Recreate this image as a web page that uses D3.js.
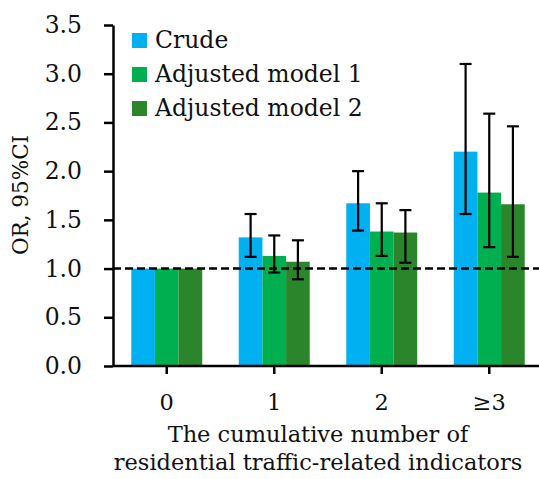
<!DOCTYPE html>
<html>
<head>
<meta charset="utf-8">
<script src="https://cdn.jsdelivr.net/npm/d3@7"></script>
<style>
  body { margin: 0; background: #fff; }
  svg { display: block; font-family: "DejaVu Serif", serif; }
</style>
</head>
<body>
<svg id="chart" width="539" height="479"></svg>
<script>
  // categories and series
  const categories = ["0", "1", "2", "≥3"];
  const seriesNames = ["Crude", "Adjusted model 1", "Adjusted model 2"];
  const colors = ["#00b0f0", "#00b050", "#2b862b"];

  // odds ratios per series (one value per category)
  const crude = [1.0, 1.32, 1.67, 2.2];
  const adj1 = [1.0, 1.13, 1.38, 1.78];
  const adj2 = [1.0, 1.07, 1.37, 1.66];

  // 95% CI bounds (null = no error bar)
  const crudeLow = [null, 1.12, 1.39, 1.56];
  const crudeHigh = [null, 1.56, 2.0, 3.1];
  const adj1Low = [null, 0.96, 1.13, 1.22];
  const adj1High = [null, 1.34, 1.67, 2.59];
  const adj2Low = [null, 0.89, 1.06, 1.12];
  const adj2High = [null, 1.29, 1.6, 2.46];

  const yTicks = [0, 0.5, 1, 1.5, 2, 2.5, 3, 3.5];

  const values = [crude, adj1, adj2];
  const lows = [crudeLow, adj1Low, adj2Low];
  const highs = [crudeHigh, adj1High, adj2High];

  const rows = [];
  seriesNames.forEach((s, si) => {
    categories.forEach((c, ci) => {
      rows.push({ series: s, si: si, cat: c, v: values[si][ci], lo: lows[si][ci], hi: highs[si][ci] });
    });
  });

  const svg = d3.select("#chart");
  const mLeft = 113, mRight = 543, mTop = 25, mBottom = 366;

  const x = d3.scaleBand().domain(categories).range([mLeft, mRight]).paddingInner(0.34).paddingOuter(0.17);
  const xs = d3.scaleBand().domain(seriesNames).range([0, x.bandwidth()]);
  const y = d3.scaleLinear().domain([0, 3.5]).range([mBottom, mTop]);

  // bars
  svg.append("g")
    .selectAll("rect")
    .data(rows)
    .join("rect")
    .attr("x", d => x(d.cat) + xs(d.series))
    .attr("width", xs.bandwidth())
    .attr("y", d => y(d.v))
    .attr("height", d => y(0) - y(d.v))
    .attr("fill", d => colors[d.si]);

  // reference line at OR = 1
  svg.append("line")
    .attr("x1", mLeft)
    .attr("x2", 539)
    .attr("y1", y(1))
    .attr("y2", y(1))
    .attr("stroke", "#000")
    .attr("stroke-width", 2.5)
    .attr("stroke-dasharray", "8,4");

  // error bars
  const err = svg.append("g").attr("stroke", "#000").attr("stroke-width", 2.2);
  const withCI = rows.filter(d => d.lo != null);
  const cx = d => x(d.cat) + xs(d.series) + xs.bandwidth() / 2;
  err.selectAll(".v").data(withCI).join("line")
    .attr("x1", cx).attr("x2", cx)
    .attr("y1", d => y(d.lo)).attr("y2", d => y(d.hi));
  err.selectAll(".t").data(withCI).join("line")
    .attr("x1", d => cx(d) - 6).attr("x2", d => cx(d) + 6)
    .attr("y1", d => y(d.hi)).attr("y2", d => y(d.hi));
  err.selectAll(".b").data(withCI).join("line")
    .attr("x1", d => cx(d) - 6).attr("x2", d => cx(d) + 6)
    .attr("y1", d => y(d.lo)).attr("y2", d => y(d.lo));

  // axes
  const yAxis = svg.append("g")
    .attr("transform", `translate(${mLeft},0)`)
    .call(d3.axisLeft(y).tickValues(yTicks).tickFormat(d3.format(".1f")).tickSize(9).tickSizeOuter(0).tickPadding(22));
  yAxis.selectAll("text").attr("font-size", 23.5).attr("font-family", "DejaVu Serif").attr("fill", "#111");
  yAxis.selectAll("line, path").attr("stroke", "#000").attr("stroke-width", 2.5);

  const xAxis = svg.append("g")
    .attr("transform", `translate(0,${mBottom})`)
    .call(d3.axisBottom(x).tickSize(8).tickSizeOuter(0).tickPadding(20));
  xAxis.select(".domain").attr("d", `M${mLeft},0H539`);
  xAxis.selectAll("text").attr("font-size", 22.5).attr("font-family", "DejaVu Serif").attr("fill", "#111");
  xAxis.selectAll("line, path").attr("stroke", "#000").attr("stroke-width", 2.5);

  // axis titles
  svg.append("text")
    .attr("transform", "translate(28,195) rotate(-90)")
    .attr("text-anchor", "middle")
    .attr("font-size", 21.5)
    .attr("fill", "#111")
    .text("OR, 95%CI");

  const xTitle = svg.append("text")
    .attr("text-anchor", "middle")
    .attr("font-size", 22.5)
    .attr("fill", "#111");
  xTitle.append("tspan").attr("x", 318).attr("y", 442).text("The cumulative number of");
  xTitle.append("tspan").attr("x", 318).attr("y", 470).text("residential traffic-related indicators");

  // legend
  const legend = svg.append("g")
    .selectAll("g")
    .data(seriesNames)
    .join("g")
    .attr("transform", (d, i) => `translate(132,${33 + i * 34})`);
  legend.append("rect")
    .attr("width", 15)
    .attr("height", 15)
    .attr("fill", (d, i) => colors[i]);
  legend.append("text")
    .attr("x", 23)
    .attr("y", 15)
    .attr("font-size", 23.5)
    .attr("fill", "#111")
    .text(d => d);
</script>
</body>
</html>
